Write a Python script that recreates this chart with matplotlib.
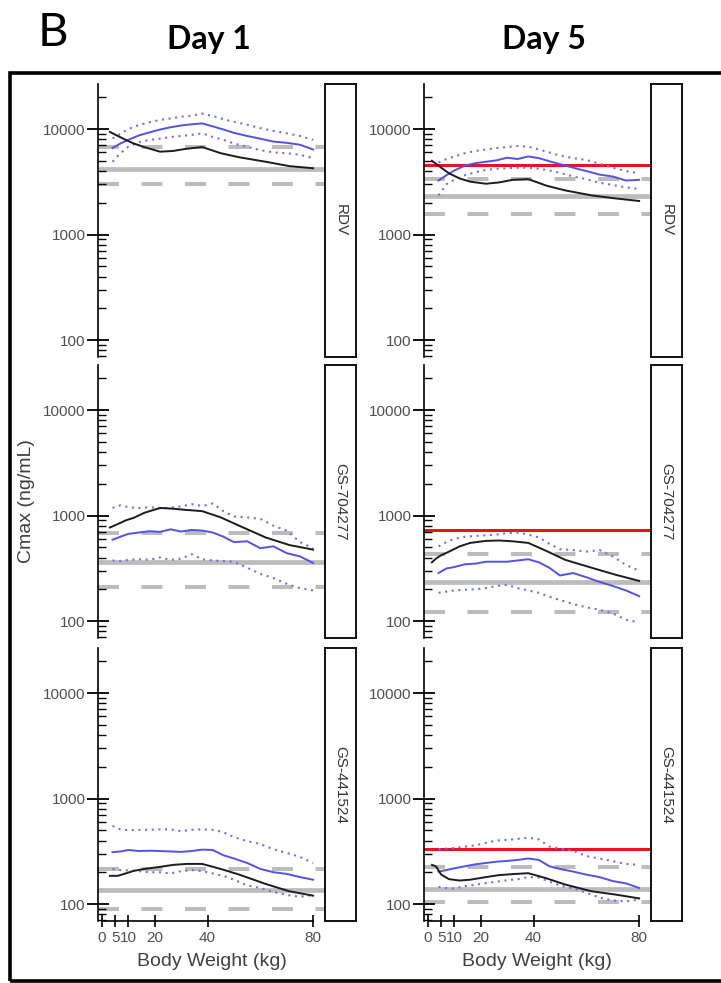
import matplotlib
matplotlib.use("Agg")
import matplotlib.pyplot as plt
from matplotlib.patches import Rectangle
from matplotlib.ticker import LogLocator, FixedLocator, FixedFormatter, NullFormatter

# ---------------- data ----------------
DAYS = ["Day 1", "Day 5"]
ANALYTES = ["RDV", "GS-704277", "GS-441524"]
X_TICKS = [0, 5, 10, 20, 40, 80]
X_TICK_LABELS = ["0", "5", "10", "20", "40", "80"]
Y_TICKS = [100, 1000, 10000]
Y_TICK_LABELS = ["100", "1000", "10000"]

WT_BLACK_D1 = [3, 6, 9, 12, 16, 22, 27, 32, 38, 45, 52, 62, 71, 80]
WT_BLACK_D5 = [1.5, 3, 5, 8, 12, 16, 22, 27, 32, 38, 45, 52, 62, 71, 80]
WT_BLUE = [4, 7, 10, 14, 18, 22, 26, 30, 34, 38, 42, 46, 50, 55, 60, 65, 70, 75, 80]

# Day 1 - RDV
D1_RDV_BLACK = [9400, 8600, 7900, 7300, 6750, 6100, 6200, 6500, 6750, 5900, 5400, 4900, 4450, 4250]
D1_RDV_BLUE = [6600, 7300, 7900, 8700, 9300, 9900, 10400, 10800, 11100, 11300, 10600, 9900, 9200, 8600, 8100, 7600, 7400, 7100, 6400]
D1_RDV_HI = [8150, 9000, 10000, 10900, 11600, 12200, 12600, 13100, 13400, 14000, 13300, 12400, 11700, 11000, 10200, 9600, 9100, 8600, 7900]
D1_RDV_LO = [4900, 5900, 6800, 7500, 7900, 8100, 8400, 8600, 8800, 9100, 8400, 7900, 7300, 6800, 6300, 6000, 5900, 5700, 5300]
D1_RDV_REF = [4200, 6700, 3000]          # median, upper, lower (adult)

# Day 1 - GS-704277
D1_GS7_BLACK = [770, 830, 900, 950, 1060, 1180, 1160, 1130, 1100, 960, 800, 620, 525, 475]
D1_GS7_BLUE = [590, 630, 670, 690, 710, 700, 740, 705, 730, 720, 690, 630, 560, 570, 490, 510, 440, 410, 355]
D1_GS7_HI = [1180, 1250, 1200, 1180, 1200, 1170, 1190, 1220, 1280, 1230, 1300, 1100, 980, 960, 930, 800, 720, 560, 490]
D1_GS7_LO = [375, 370, 380, 385, 380, 400, 380, 390, 430, 385, 375, 370, 365, 320, 280, 255, 225, 205, 195]
D1_GS7_REF = [365, 690, 210]

# Day 1 - GS-441524
D1_GS4_BLACK = [185, 185, 195, 206, 215, 225, 235, 240, 240, 215, 190, 155, 132, 120]
D1_GS4_BLUE = [310, 315, 325, 318, 320, 318, 315, 312, 318, 328, 325, 290, 270, 245, 215, 200, 193, 180, 170]
D1_GS4_HI = [550, 510, 500, 505, 505, 510, 510, 490, 505, 510, 505, 480, 430, 395, 370, 330, 305, 280, 245]
D1_GS4_LO = [215, 210, 208, 205, 200, 200, 195, 205, 210, 205, 195, 185, 170, 150, 142, 130, 122, 117, 122]
D1_GS4_REF = [135, 217, 90]

# Day 5 - RDV
D5_RDV_BLACK = [5000, 4700, 4300, 3800, 3400, 3170, 3030, 3120, 3300, 3350, 2900, 2620, 2350, 2200, 2080]
D5_RDV_BLUE = [3250, 3650, 4050, 4500, 4750, 4900, 5050, 5350, 5200, 5500, 5300, 4950, 4650, 4300, 4000, 3700, 3550, 3250, 3300]
D5_RDV_HI = [4800, 5200, 5500, 5900, 6200, 6400, 6600, 6750, 6900, 6800, 6400, 6000, 5600, 5300, 5100, 4700, 4300, 4000, 3800]
D5_RDV_LO = [2350, 3000, 3300, 3650, 3900, 4100, 4200, 4250, 4300, 4300, 4200, 4050, 3850, 3550, 3350, 3100, 2950, 2800, 2700]
D5_RDV_REF = [2330, 3350, 1570]
D5_RDV_RED = 4570

# Day 5 - GS-704277
D5_GS7_BLACK = [360, 390, 420, 455, 510, 550, 575, 580, 570, 550, 460, 380, 320, 275, 240]
D5_GS7_BLUE = [285, 315, 325, 345, 350, 365, 365, 365, 375, 385, 360, 320, 270, 285, 260, 235, 215, 195, 172]
D5_GS7_HI = [510, 560, 600, 630, 640, 650, 660, 680, 690, 660, 620, 540, 480, 470, 455, 470, 410, 340, 300]
D5_GS7_LO = [185, 190, 195, 198, 200, 205, 215, 220, 205, 195, 185, 170, 158, 145, 135, 128, 118, 103, 97]
D5_GS7_REF = [232, 428, 121]
D5_GS7_RED = 722

# Day 5 - GS-441524
D5_GS4_BLACK = [235, 228, 190, 172, 167, 170, 180, 188, 192, 196, 175, 153, 132, 123, 113]
D5_GS4_BLUE = [203, 210, 218, 228, 238, 245, 252, 256, 262, 270, 262, 228, 215, 203, 190, 180, 165, 157, 142]
D5_GS4_HI = [330, 335, 340, 350, 360, 380, 400, 405, 415, 425, 410, 350, 335, 320, 285, 270, 255, 240, 235]
D5_GS4_LO = [145, 142, 140, 148, 152, 158, 163, 168, 172, 180, 178, 163, 150, 140, 128, 115, 108, 106, 110]
D5_GS4_REF = [138, 222, 104]
D5_GS4_RED = 332

PANELS = {
    (0, 0): (WT_BLACK_D1, D1_RDV_BLACK, D1_RDV_BLUE, D1_RDV_HI, D1_RDV_LO, D1_RDV_REF, None),
    (1, 0): (WT_BLACK_D1, D1_GS7_BLACK, D1_GS7_BLUE, D1_GS7_HI, D1_GS7_LO, D1_GS7_REF, None),
    (2, 0): (WT_BLACK_D1, D1_GS4_BLACK, D1_GS4_BLUE, D1_GS4_HI, D1_GS4_LO, D1_GS4_REF, None),
    (0, 1): (WT_BLACK_D5, D5_RDV_BLACK, D5_RDV_BLUE, D5_RDV_HI, D5_RDV_LO, D5_RDV_REF, D5_RDV_RED),
    (1, 1): (WT_BLACK_D5, D5_GS7_BLACK, D5_GS7_BLUE, D5_GS7_HI, D5_GS7_LO, D5_GS7_REF, D5_GS7_RED),
    (2, 1): (WT_BLACK_D5, D5_GS4_BLACK, D5_GS4_BLUE, D5_GS4_HI, D5_GS4_LO, D5_GS4_REF, D5_GS4_RED),
}

# ---------------- layout ----------------
W, H = 721, 983
fig = plt.figure(figsize=(W / 100, H / 100), dpi=100)

def box(px0, py0, pw, ph):
    return [px0 / W, 1 - (py0 + ph) / H, pw / W, ph / H]

TICK_FONT = "Liberation Sans"
GREY_TXT = "#505050"
COL_LEFT = [98, 424]
COL_W = 227
STRIP_W = 31
ROW_TOP = [84, 365, 648]
ROW_H = 273
XLIM = (-1.5, 84.5)
YLIM = (10 ** 1.839, 10 ** 4.427)

C_BLACK = "#1c1c1c"
C_BLUE = "#5252e6"
C_BLUE_DOT = "#7070ee"
C_GREY = "#bcbcbc"
C_RED = "#e8141c"

for (r, c), (wtb, blk, blu, hi, lo, ref, red) in PANELS.items():
    ax = fig.add_axes(box(COL_LEFT[c], ROW_TOP[r], COL_W, ROW_H))
    ax.set_yscale("log")
    ax.set_xlim(*XLIM)
    ax.set_ylim(*YLIM)

    # reference (adult) lines
    ax.axhline(ref[0], color=C_GREY, lw=3.4, zorder=1, solid_capstyle="butt")
    for v in ref[1:]:
        ln = ax.axhline(v, color=C_GREY, lw=2.9, zorder=1)
        ln.set_dashes([5.2, 5.6])
    if red is not None:
        ax.axhline(red, color=C_RED, lw=2.2, zorder=2)

    ax.plot(WT_BLUE, hi, color=C_BLUE_DOT, lw=1.5, ls=(0, (1, 2.2)), zorder=3)
    ax.plot(WT_BLUE, lo, color=C_BLUE_DOT, lw=1.5, ls=(0, (1, 2.2)), zorder=3)
    ax.plot(WT_BLUE, blu, color=C_BLUE, lw=1.4, zorder=4)
    ax.plot(wtb, blk, color=C_BLACK, lw=1.4, zorder=5)

    for s in ["top", "right"]:
        ax.spines[s].set_visible(False)
    ax.spines["left"].set_linewidth(1.2)
    ax.yaxis.set_major_locator(FixedLocator(Y_TICKS))
    ax.yaxis.set_major_formatter(FixedFormatter(Y_TICK_LABELS))
    ax.yaxis.set_minor_locator(LogLocator(base=10, subs=range(2, 10), numticks=20))
    ax.yaxis.set_minor_formatter(NullFormatter())
    ax.tick_params(axis="y", which="major", direction="inout", length=16, width=1.3,
                   labelsize=11, labelcolor=GREY_TXT, pad=1)
    ax.tick_params(axis="y", which="minor", direction="in", length=6, width=1.0)
    for lab in ax.get_yticklabels():
        lab.set_fontfamily(TICK_FONT)

    if r == 2:
        ax.spines["bottom"].set_bounds(0, 80)
        ax.spines["bottom"].set_linewidth(1.2)
        ax.set_xticks(X_TICKS)
        ax.set_xticklabels(X_TICK_LABELS, fontfamily=TICK_FONT)
        ax.tick_params(axis="x", direction="inout", length=8, width=1.2,
                       labelsize=11, labelcolor=GREY_TXT, pad=3)
    else:
        ax.spines["bottom"].set_visible(False)
        ax.set_xticks([])

    # strip on the right
    sax = fig.add_axes(box(COL_LEFT[c] + COL_W, ROW_TOP[r], STRIP_W, ROW_H))
    sax.set_xticks([])
    sax.set_yticks([])
    for s in sax.spines.values():
        s.set_linewidth(1.4)
        s.set_color("#111111")
    sax.text(0.5, 0.5, ANALYTES[r], rotation=270, ha="center", va="center",
             fontsize=11, color="#333333", fontfamily=TICK_FONT, transform=sax.transAxes)

# outer frame
fig.add_artist(Rectangle((10 / W, 1 - 981 / H), 716 / W, (981 - 73) / H,
                         transform=fig.transFigure, fill=False, lw=2.6,
                         edgecolor="black", zorder=10))

# texts
def ftext(px, py, s, **kw):
    fig.text(px / W, 1 - py / H, s, ha="center", va="center", **kw)

ftext(53, 33, "B", fontsize=34, fontfamily="Lato", color="black")
ftext(209, 39, DAYS[0], fontsize=23, fontfamily="Lato", fontweight="bold", color="black")
ftext(544, 39, DAYS[1], fontsize=23, fontfamily="Lato", fontweight="bold", color="black")
ftext(27, 501, "Cmax (ng/mL)", rotation=90, fontsize=14, fontfamily=TICK_FONT, color="#404040")
ftext(212, 962, "Body Weight (kg)", fontsize=14, fontfamily=TICK_FONT, color="#404040")
ftext(537, 962, "Body Weight (kg)", fontsize=14, fontfamily=TICK_FONT, color="#404040")

fig.savefig("out.png", dpi=100)
